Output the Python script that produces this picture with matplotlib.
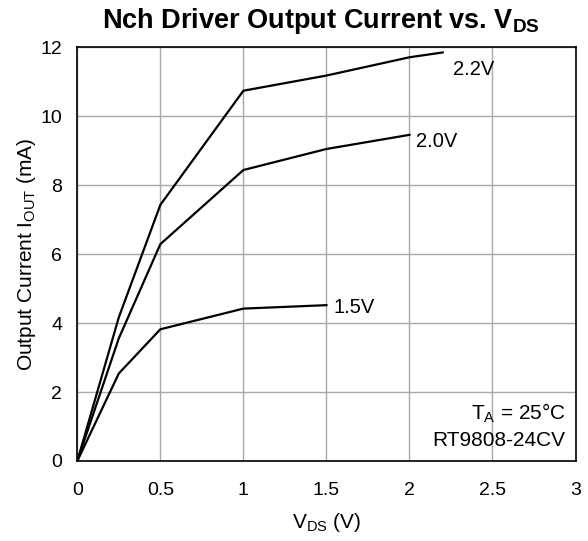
import matplotlib
matplotlib.use("Agg")
import matplotlib.pyplot as plt

plt.rcParams['font.family'] = ['Liberation Sans', 'DejaVu Sans']
plt.rcParams['mathtext.fontset'] = 'custom'
plt.rcParams['mathtext.rm'] = 'Liberation Sans'
plt.rcParams['mathtext.it'] = 'Liberation Sans'
plt.rcParams['mathtext.bf'] = 'Liberation Sans:bold'

# Output current curves (V_DS in V, I_OUT in mA)
vds_22 = [0, 0.25, 0.5, 1.0, 1.5, 2.0, 2.2]
iout_22 = [0, 4.17, 7.43, 10.74, 11.18, 11.71, 11.85]
vds_20 = [0, 0.25, 0.5, 1.0, 1.5, 2.0]
iout_20 = [0, 3.56, 6.29, 8.44, 9.05, 9.46]
vds_15 = [0, 0.25, 0.5, 1.0, 1.5]
iout_15 = [0, 2.54, 3.82, 4.42, 4.52]

xticks = [0, 0.5, 1, 1.5, 2, 2.5, 3]
xtick_labels = ['0', '0.5', '1', '1.5', '2', '2.5', '3']
yticks = [0, 2, 4, 6, 8, 10, 12]

fig = plt.figure(figsize=(5.88, 5.41), dpi=100)
ax = fig.add_axes([0.1315, 0.1479, 0.8473, 0.7647])

for x, y in [(vds_22, iout_22), (vds_20, iout_20), (vds_15, iout_15)]:
    ax.plot(x, y, color='black', lw=1.6, zorder=3)

ax.text(2.262, 11.35, '2.2V', fontsize=14.5, va='center', ha='left')
ax.text(2.04, 9.26, '2.0V', fontsize=14.5, va='center', ha='left')
ax.text(1.545, 4.44, '1.5V', fontsize=14.5, va='center', ha='left')

ax.text(0.98, 0.115, r'T$_{\mathrm{A}}$ = 25°C', transform=ax.transAxes,
        fontsize=15, ha='right', va='center')
ax.text(0.98, 0.05, 'RT9808-24CV', transform=ax.transAxes,
        fontsize=15, ha='right', va='center')

ax.set_xlim(0, 3)
ax.set_ylim(0, 12)
ax.set_xticks(xticks)
ax.set_xticklabels(xtick_labels)
ax.set_yticks(yticks)
ax.tick_params(axis='x', length=0, labelsize=14, pad=15)
ax.tick_params(axis='y', length=0, labelsize=14, pad=11)
ax.grid(True, color='#a8a8a8', lw=1.0)
for s in ax.spines.values():
    s.set_color('black')
    s.set_linewidth(1.2)

ax.set_xlabel(r'V$_{\mathrm{DS}}$ (V)', fontsize=15, labelpad=9)
ax.set_ylabel(r'Output Current I$_{\mathrm{OUT}}$ (mA)', fontsize=15, labelpad=2)
fig.text(321 / 588, 1 - 28 / 541, r'Nch Driver Output Current vs. V$_{\mathbf{DS}}$',
         fontsize=19.5, fontweight='bold', ha='center', va='baseline')

fig.savefig('out.png', dpi=100)
